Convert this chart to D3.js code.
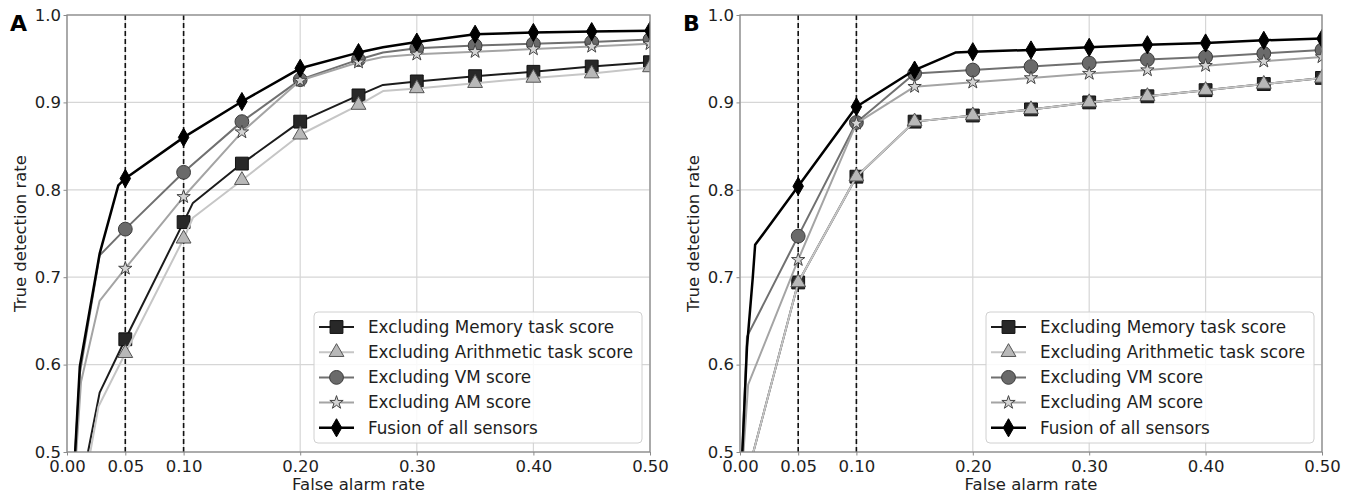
<!DOCTYPE html>
<html>
<head>
<meta charset="utf-8">
<script src="https://cdn.jsdelivr.net/npm/d3@7"></script>
<style>
  body { margin: 0; background: #fff; }
  svg { display: block; font-family: "DejaVu Sans", sans-serif; }
</style>
</head>
<body>
<div id="container"></div>
<script>
// axis ticks
const falseAlarmTicks = [0, 0.05, 0.10, 0.20, 0.30, 0.40, 0.50];
const detectionTicks = [0.5, 0.6, 0.7, 0.8, 0.9, 1.0];
const cutoffLines = [0.05, 0.10];

// rates where the markers sit
const markerRates = [0.05, 0.10, 0.15, 0.20, 0.25, 0.30, 0.35, 0.40, 0.45, 0.50];

const seriesNames = [
    'Excluding Memory task score',
    'Excluding Arithmetic task score',
    'Excluding VM score',
    'Excluding AM score',
    'Fusion of all sensors'
];

// panel A : detection rate at the marker rates, plus extra curve points
const memoryA = [0.629, 0.763, 0.830, 0.878, 0.908, 0.924, 0.930, 0.935, 0.941, 0.946];
const memoryBendsA = [[0.018, 0.5], [0.028, 0.568], [0.108, 0.785], [0.271, 0.920]];
const arithmeticA = [0.613, 0.744, 0.811, 0.863, 0.897, 0.916, 0.922, 0.928, 0.933, 0.940];
const arithmeticBendsA = [[0.020, 0.5], [0.027, 0.552], [0.108, 0.768], [0.271, 0.913]];
const vmA = [0.755, 0.820, 0.878, 0.926, 0.949, 0.962, 0.965, 0.967, 0.969, 0.972];
const vmBendsA = [[0.007, 0.5], [0.011, 0.59], [0.028, 0.725], [0.271, 0.957]];
const amA = [0.710, 0.792, 0.866, 0.925, 0.946, 0.955, 0.958, 0.961, 0.964, 0.967];
const amBendsA = [[0.008, 0.5], [0.012, 0.58], [0.028, 0.673], [0.271, 0.952]];
const fusionA = [0.813, 0.860, 0.901, 0.939, 0.957, 0.969, 0.978, 0.980, 0.981, 0.982];
const fusionBendsA = [[0.007, 0.5], [0.011, 0.598], [0.028, 0.727], [0.044, 0.805], [0.271, 0.963]];

// panel B
const memoryB = [0.694, 0.815, 0.878, 0.885, 0.892, 0.900, 0.907, 0.914, 0.921, 0.928];
const memoryBendsB = [[0.0115, 0.5]];
const arithmeticB = [0.694, 0.815, 0.878, 0.885, 0.892, 0.900, 0.907, 0.914, 0.921, 0.928];
const arithmeticBendsB = [[0.0115, 0.5]];
const vmB = [0.747, 0.877, 0.933, 0.937, 0.941, 0.945, 0.949, 0.952, 0.956, 0.960];
const vmBendsB = [[0.002, 0.5], [0.006, 0.632]];
const amB = [0.720, 0.876, 0.918, 0.923, 0.928, 0.933, 0.937, 0.942, 0.947, 0.952];
const amBendsB = [[0.003, 0.5], [0.007, 0.577]];
const fusionB = [0.804, 0.895, 0.937, 0.958, 0.960, 0.963, 0.966, 0.968, 0.971, 0.973];
const fusionBendsB = [[0.002, 0.5], [0.006, 0.62], [0.011, 0.70], [0.013, 0.737], [0.185, 0.957]];

const w = 1353;
const h = 495;

const styles = [
    { symbol: d3.symbolSquare, size: 165, fill: '#282828', edge: '#111', line: '#1c1c1c', lw: 2 },
    { symbol: d3.symbolTriangle, size: 95, fill: '#b8b8b8', edge: '#555', line: '#c6c6c6', lw: 2 },
    { symbol: d3.symbolCircle, size: 150, fill: '#6a6a6a', edge: '#3c3c3c', line: '#707070', lw: 2 },
    { symbol: d3.symbolStar, size: 55, fill: '#d4d4d4', edge: '#444', line: '#a4a4a4', lw: 2 },
    { symbol: d3.symbolDiamond, size: 95, fill: '#000', edge: '#000', line: '#000', lw: 2.5 }
];

const buildCurve = (marks, bends) => {
    const pts = bends.concat(markerRates.map((r, i) => [r, marks[i]]));
    return pts.sort((a, b) => a[0] - b[0]);
};

const svg = d3.select('#container').append('svg')
    .attr('width', w)
    .attr('height', h);

const drawPanel = (p) => {
    const { id, letter, left, right, top, bottom, curves, marks } = p;

    const xScale = d3.scaleLinear().domain([0, 0.5]).range([left, right]);
    const yScale = d3.scaleLinear().domain([0.5, 1.0]).range([bottom, top]);

    const g = svg.append('g').attr('id', id);

    g.append('clipPath')
        .attr('id', 'clip-' + id)
        .append('rect')
        .attr('x', left)
        .attr('y', top)
        .attr('width', right - left)
        .attr('height', bottom - top);

    // grid
    g.selectAll('.vgrid')
        .data(falseAlarmTicks)
        .enter()
        .append('line')
        .attr('x1', d => xScale(d))
        .attr('x2', d => xScale(d))
        .attr('y1', top)
        .attr('y2', bottom)
        .attr('stroke', '#d6d6d6')
        .attr('stroke-width', 1.2);

    g.selectAll('.hgrid')
        .data(detectionTicks)
        .enter()
        .append('line')
        .attr('x1', left)
        .attr('x2', right)
        .attr('y1', d => yScale(d))
        .attr('y2', d => yScale(d))
        .attr('stroke', '#d6d6d6')
        .attr('stroke-width', 1.2);

    // dashed cut-off lines
    g.selectAll('.cutoff')
        .data(cutoffLines)
        .enter()
        .append('line')
        .attr('x1', d => xScale(d))
        .attr('x2', d => xScale(d))
        .attr('y1', top)
        .attr('y2', bottom)
        .attr('stroke', '#111')
        .attr('stroke-width', 1.6)
        .attr('stroke-dasharray', '5,3');

    const plot = g.append('g').attr('clip-path', `url(#clip-${id})`);

    const line = d3.line()
        .x(d => xScale(d[0]))
        .y(d => yScale(d[1]));

    curves.forEach((c, i) => {
        const s = styles[i];
        plot.append('path')
            .datum(c)
            .attr('d', line)
            .attr('fill', 'none')
            .attr('stroke', s.line)
            .attr('stroke-width', s.lw)
            .attr('stroke-linejoin', 'round');

        plot.selectAll('.mark' + i)
            .data(marks[i])
            .enter()
            .append('path')
            .attr('d', d3.symbol(s.symbol, s.size))
            .attr('transform', (d, j) => `translate(${xScale(markerRates[j])},${yScale(d)})`)
            .attr('fill', s.fill)
            .attr('stroke', s.edge)
            .attr('stroke-width', 1);
    });

    // frame
    g.append('rect')
        .attr('x', left)
        .attr('y', top)
        .attr('width', right - left)
        .attr('height', bottom - top)
        .attr('fill', 'none')
        .attr('stroke', '#8a8a8a')
        .attr('stroke-width', 1.3);

    const xAxis = d3.axisBottom(xScale)
        .tickValues(falseAlarmTicks)
        .tickFormat(d3.format('.2f'))
        .tickSize(3.5)
        .tickPadding(5);

    const yAxis = d3.axisLeft(yScale)
        .tickValues(detectionTicks)
        .tickFormat(d3.format('.1f'))
        .tickSize(3.5)
        .tickPadding(2.5);

    const xg = g.append('g')
        .attr('transform', `translate(0,${bottom})`)
        .call(xAxis);
    const yg = g.append('g')
        .attr('transform', `translate(${left},0)`)
        .call(yAxis);

    [xg, yg].forEach(a => {
        a.attr('font-family', null).attr('font-size', 16.5);
        a.select('.domain').remove();
        a.selectAll('.tick line').attr('stroke', '#8a8a8a');
        a.selectAll('.tick text').attr('fill', '#1e1e1e');
    });

    g.append('text')
        .attr('x', (left + right) / 2)
        .attr('y', 490)
        .attr('text-anchor', 'middle')
        .attr('font-size', 16.5)
        .attr('fill', '#1e1e1e')
        .text('False alarm rate');

    g.append('text')
        .attr('transform', `translate(${left - 47},${(top + bottom) / 2}) rotate(-90)`)
        .attr('text-anchor', 'middle')
        .attr('dy', '0.35em')
        .attr('font-size', 16.5)
        .attr('fill', '#1e1e1e')
        .text('True detection rate');

    g.append('text')
        .attr('x', left - 57)
        .attr('y', 31)
        .attr('font-size', 22)
        .attr('font-weight', 'bold')
        .attr('fill', '#000')
        .text(letter);

    // legend
    const lx = right - 336;
    const ly = bottom - 140;
    const legend = g.append('g').attr('transform', `translate(${lx},${ly})`);

    legend.append('rect')
        .attr('width', 328)
        .attr('height', 131)
        .attr('rx', 4)
        .attr('fill', '#fff')
        .attr('fill-opacity', 0.85)
        .attr('stroke', '#d0d0d0');

    const rows = legend.selectAll('.row')
        .data(seriesNames)
        .enter()
        .append('g')
        .attr('transform', (d, i) => `translate(0,${15 + i * 25.2})`);

    rows.append('line')
        .attr('x1', 5)
        .attr('x2', 40)
        .attr('stroke', (d, i) => styles[i].line)
        .attr('stroke-width', (d, i) => styles[i].lw);

    rows.append('path')
        .attr('d', (d, i) => d3.symbol(styles[i].symbol, styles[i].size)())
        .attr('transform', 'translate(22.5,0)')
        .attr('fill', (d, i) => styles[i].fill)
        .attr('stroke', (d, i) => styles[i].edge);

    rows.append('text')
        .attr('x', 54)
        .attr('dy', '0.35em')
        .attr('font-size', 16.8)
        .attr('fill', '#1e1e1e')
        .text(d => d);
};

drawPanel({
    id: 'panelA', letter: 'A', left: 67, right: 650, top: 15, bottom: 452,
    curves: [
        buildCurve(memoryA, memoryBendsA),
        buildCurve(arithmeticA, arithmeticBendsA),
        buildCurve(vmA, vmBendsA),
        buildCurve(amA, amBendsA),
        buildCurve(fusionA, fusionBendsA)
    ],
    marks: [memoryA, arithmeticA, vmA, amA, fusionA]
});

drawPanel({
    id: 'panelB', letter: 'B', left: 740, right: 1322, top: 15, bottom: 452,
    curves: [
        buildCurve(memoryB, memoryBendsB),
        buildCurve(arithmeticB, arithmeticBendsB),
        buildCurve(vmB, vmBendsB),
        buildCurve(amB, amBendsB),
        buildCurve(fusionB, fusionBendsB)
    ],
    marks: [memoryB, arithmeticB, vmB, amB, fusionB]
});
</script>
</body>
</html>
